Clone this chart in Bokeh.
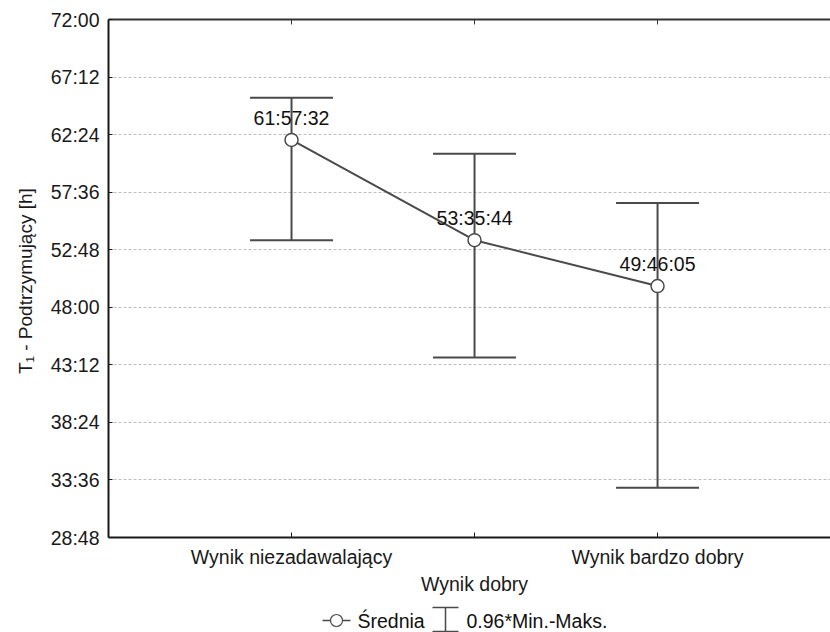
from bokeh.plotting import figure
from bokeh.models import (ColumnDataSource, Range1d, FixedTicker, LinearAxis,
                          Whisker, TeeHead)
from bokeh.layouts import column
from bokeh.core.properties import value
from bokeh.embed import file_html
from bokeh.resources import INLINE

# ---- data ----
categories = ["Wynik niezadawalający", "Wynik dobry", "Wynik bardzo dobry"]
cat_pos = [1, 2, 3]
means_h = [61 + 57/60 + 32/3600, 53 + 35/60 + 44/3600, 49 + 46/60 + 5/3600]
mean_labels = ["61:57:32", "53:35:44", "49:46:05"]
upper_h = [65.47, 60.81, 56.69]
lower_h = [53.58, 43.81, 32.94]
y_ticks = [28.8, 33.6, 38.4, 43.2, 48.0, 52.8, 57.6, 62.4, 67.2, 72.0]
y_tick_labels = ["28:48", "33:36", "38:24", "43:12", "48:00", "52:48",
                 "57:36", "62:24", "67:12", "72:00"]
y_label = "T\u2081 -  Podtrzymujący [h]"
legend_mean = "Średnia"
legend_err = "0.96*Min.-Maks."

FONT = "Liberation Sans"
FS = "19.5px"
LC = "#4a4a4a"
TC = "#1a1a1a"

src = ColumnDataSource(dict(x=cat_pos, m=means_h, up=upper_h, lo=lower_h,
                            lab=mean_labels))

p = figure(width=830, height=600, output_backend="svg", toolbar_location=None,
           x_range=Range1d(0, 3.945), y_range=Range1d(28.8, 72.0),
           min_border_left=108, min_border_right=0, min_border_top=19,
           min_border_bottom=63)
p.outline_line_color = None
p.background_fill_color = "white"
p.border_fill_color = "white"

# grid
p.xgrid.visible = False
p.ygrid.ticker = FixedTicker(ticks=y_ticks[1:-1])
p.ygrid.grid_line_color = "#bdbdbd"
p.ygrid.grid_line_dash = "3 2"
p.ygrid.grid_line_width = 1

# left axis
ya = p.yaxis[0]
ya.ticker = FixedTicker(ticks=y_ticks)
ya.major_label_overrides = {t: l for t, l in zip(y_ticks, y_tick_labels)}
ya.minor_tick_line_color = None
ya.major_tick_in = 4
ya.major_tick_out = 0
ya.axis_line_width = 2
ya.axis_line_color = TC
ya.major_tick_line_color = TC
ya.major_label_text_font = FONT
ya.major_label_text_font_size = FS
ya.major_label_text_color = TC
ya.major_label_standoff = 9
ya.axis_label = y_label
ya.axis_label_text_font = FONT
ya.axis_label_text_font_size = "19px"
ya.axis_label_text_font_style = "normal"
ya.axis_label_text_color = TC
ya.axis_label_standoff = 12

# bottom axis (row 1)
xa = p.xaxis[0]
xa.ticker = FixedTicker(ticks=cat_pos)
xa.major_label_overrides = {1: categories[0], 2: "", 3: categories[2]}
xa.minor_tick_line_color = None
xa.major_tick_in = 5
xa.major_tick_out = 0
xa.axis_line_width = 2
xa.axis_line_color = TC
xa.major_tick_line_color = TC
xa.major_label_text_font = FONT
xa.major_label_text_font_size = FS
xa.major_label_text_color = TC
xa.major_label_standoff = 8

# bottom axis (row 2)
xa2 = LinearAxis(ticker=FixedTicker(ticks=[2]),
                 major_label_overrides={2: categories[1]})
xa2.axis_line_color = None
xa2.major_tick_line_color = None
xa2.minor_tick_line_color = None
xa2.major_tick_in = 0
xa2.major_tick_out = 0
xa2.major_label_text_font = FONT
xa2.major_label_text_font_size = FS
xa2.major_label_text_color = TC
xa2.major_label_standoff = 2
p.add_layout(xa2, "below")

# top axis
ta = LinearAxis(ticker=FixedTicker(ticks=cat_pos))
ta.major_label_text_font_size = "0px"
ta.major_label_text_color = None
ta.minor_tick_line_color = None
ta.major_tick_in = 5
ta.major_tick_out = 0
ta.axis_line_width = 2
ta.axis_line_color = "#333333"
ta.major_tick_line_color = "#333333"
ta.major_label_standoff = 0
p.add_layout(ta, "above")

# error bars
wh = Whisker(source=src, base="x", upper="up", lower="lo",
             line_color=LC, line_width=2,
             upper_head=TeeHead(size=83, line_color=LC, line_width=2),
             lower_head=TeeHead(size=83, line_color=LC, line_width=2))
p.add_layout(wh)

# mean line + markers
p.line("x", "m", source=src, line_color=LC, line_width=2)
p.scatter("x", "m", source=src, size=13, marker="circle",
          fill_color="white", line_color=LC, line_width=1.5)
p.text("x", "m", text="lab", source=src, text_align="center",
       text_baseline="alphabetic", y_offset=-22,
       text_font=value(FONT), text_font_size=FS, text_color="#111111")

# ---- legend strip (x data == page pixels) ----
leg = figure(width=830, height=32, output_backend="svg", toolbar_location=None,
             x_range=Range1d(108, 830), y_range=Range1d(0, 32),
             min_border_left=108, min_border_right=0, min_border_top=0,
             min_border_bottom=0)
leg.axis.visible = False
leg.grid.visible = False
leg.outline_line_color = None
leg.segment(x0=[322], y0=[12], x1=[350], y1=[12], line_color=LC, line_width=1.5)
leg.scatter(x=[336], y=[12], size=12, marker="circle", fill_color="white",
            line_color=LC, line_width=1.2)
leg.text(x=[357], y=[12], text=[legend_mean], text_baseline="middle",
         text_font=value(FONT), text_font_size=FS, text_color="#111111")
leg.segment(x0=[432, 432, 445], y0=[25, 1, 25], x1=[458, 458, 445],
            y1=[25, 1, 1], line_color=LC, line_width=1.5)
leg.text(x=[466], y=[12], text=[legend_err], text_baseline="middle",
         text_font=value(FONT), text_font_size=FS, text_color="#111111")

layout = column(p, leg, spacing=0)
open("out.html", "w").write(file_html(layout, INLINE))
